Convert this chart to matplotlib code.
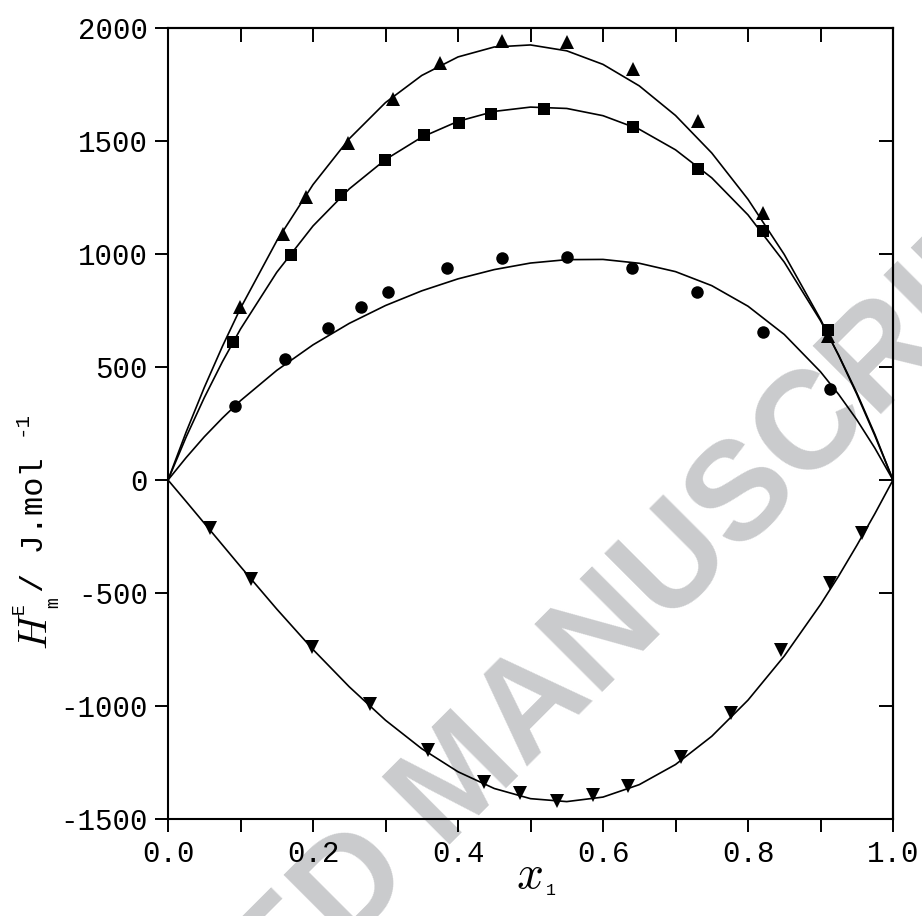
import matplotlib
matplotlib.use('Agg')
import matplotlib.pyplot as plt
import numpy as np

# ---------------- data ----------------
circ_x = [0.092, 0.162, 0.221, 0.266, 0.303, 0.385, 0.460, 0.551, 0.640, 0.730, 0.820, 0.913]
circ_y = [327, 535, 671, 764, 831, 937, 981, 985, 939, 830, 656, 401]

sq_x = [0.090, 0.169, 0.238, 0.299, 0.353, 0.401, 0.445, 0.518, 0.641, 0.731, 0.820, 0.911]
sq_y = [612, 994, 1261, 1416, 1525, 1578, 1620, 1640, 1561, 1378, 1103, 662]

tri_x = [0.099, 0.158, 0.191, 0.248, 0.311, 0.375, 0.461, 0.551, 0.641, 0.731, 0.820, 0.911]
tri_y = [767, 1090, 1254, 1493, 1686, 1847, 1944, 1938, 1817, 1590, 1180, 635]

dtri_x = [0.058, 0.115, 0.198, 0.279, 0.359, 0.436, 0.486, 0.537, 0.586, 0.635,
          0.707, 0.776, 0.845, 0.913, 0.957]
dtri_y = [-211, -438, -738, -993, -1195, -1335, -1386, -1419, -1394, -1354,
          -1227, -1032, -752, -457, -233]

curve_x = [0.000, 0.025, 0.050, 0.075, 0.100, 0.150, 0.200, 0.250, 0.300, 0.350,
           0.400, 0.450, 0.500, 0.550, 0.600, 0.650, 0.700, 0.750, 0.800, 0.850,
           0.900, 0.925, 0.950, 0.975, 1.000]
tri_fit = [0, 212, 409, 591, 760, 1058, 1307, 1510, 1670, 1790,
           1872, 1916, 1925, 1899, 1839, 1744, 1613, 1447, 1242, 998,
           711, 551, 380, 196, 0]
sq_fit = [0, 190, 364, 523, 668, 919, 1124, 1288, 1418, 1517,
          1587, 1631, 1650, 1644, 1612, 1552, 1461, 1337, 1173, 964,
          705, 553, 386, 202, 0]
circ_fit = [0, 99, 191, 274, 351, 485, 598, 693, 772, 837,
            890, 931, 960, 975, 976, 959, 922, 860, 769, 644,
            479, 379, 267, 141, 0]
dtri_fit = [0, -95, -191, -287, -383, -571, -750, -915, -1063, -1189,
            -1291, -1365, -1410, -1423, -1403, -1348, -1259, -1134, -974, -779,
            -551, -425, -290, -149, 0]

xtick_vals = [0.0, 0.2, 0.4, 0.6, 0.8, 1.0]
xtick_labels = ['0.0', '0.2', '0.4', '0.6', '0.8', '1.0']
ytick_vals = [-1500, -1000, -500, 0, 500, 1000, 1500, 2000]
ytick_labels = ['-1500', '-1000', '-500', '0', '500', '1000', '1500', '2000']

# ---------------- figure ----------------
W, H = 922, 916
plt.rcParams['mathtext.fontset'] = 'cm'
fig = plt.figure(figsize=(W / 100, H / 100), dpi=100)
fig.patch.set_facecolor('white')


def fp(x, y):
    return x / W, 1 - y / H


# watermark behind everything
fig.text(*fp(462, 782), 'ACCEPTED MANUSCRIPT', rotation=45, fontsize=100,
         family='Liberation Sans', weight='bold', color='#cacbcd',
         ha='center', va='center', zorder=-1)

ax = fig.add_axes([168 / W, 1 - 819 / H, (893 - 168) / W, (819 - 28) / H])
ax.set_facecolor('none')

lw = 1.2
for yfit in (tri_fit, sq_fit, circ_fit, dtri_fit):
    ax.plot(curve_x, yfit, color='black', lw=lw, zorder=2, solid_joinstyle='round')

ax.plot(tri_x, tri_y, '^', color='black', ms=10, mew=0, zorder=3)
ax.plot(sq_x, sq_y, 's', color='black', ms=8, mew=0, zorder=3)
ax.plot(circ_x, circ_y, 'o', color='black', ms=9, mew=0, zorder=3)
ax.plot(dtri_x, dtri_y, 'v', color='black', ms=9.5, mew=0, zorder=3)

ax.set_xlim(0, 1)
ax.set_ylim(-1500, 2000)

for s in ax.spines.values():
    s.set_linewidth(1.5)

tick_font = 'Liberation Mono'
ax.set_xticks(xtick_vals)
ax.set_xticklabels(xtick_labels, family=tick_font, fontsize=21)
ax.set_xticks([0.1, 0.3, 0.5, 0.7, 0.9], minor=True)
ax.set_yticks(ytick_vals)
ax.set_yticklabels(ytick_labels, family=tick_font, fontsize=21)
ax.tick_params(axis='x', which='both', direction='out', length=9, width=1.4,
               top=False, bottom=True, pad=6)
ax.tick_params(axis='y', which='both', direction='out', length=9.5, width=1.4,
               right=False, left=True, pad=5)

secx = ax.secondary_xaxis('top')
secx.set_xticks([0.1, 0.2, 0.3, 0.4, 0.5, 0.6, 0.7, 0.8, 0.9])
secx.tick_params(direction='in', length=10, width=1.4, labeltop=False)
secx.spines['top'].set_linewidth(1.5)

secy = ax.secondary_yaxis('right')
secy.set_yticks([-1000, -500, 0, 500, 1000, 1500])
secy.tick_params(direction='in', length=10, width=1.4, labelright=False)
secy.spines['right'].set_linewidth(1.5)

# y axis label, assembled from pieces (rotated 90 deg)
rk = dict(rotation=90, rotation_mode='anchor', ha='left', va='baseline', color='black')
fig.text(*fp(47, 650), r'$H$', fontsize=29, **rk)
fig.text(*fp(24, 614), 'E', fontsize=13, family=tick_font, **rk)
fig.text(*fp(58, 608), 'm', fontsize=13, family=tick_font, **rk)
fig.text(*fp(43, 592), '/ J.mol', fontsize=23, family=tick_font, **rk)
fig.text(*fp(27, 436), '-1', fontsize=15, family=tick_font, **rk)

# x axis label
fig.text(*fp(516, 888), r'$x$', fontsize=34, ha='left', va='baseline')
fig.text(*fp(546, 895), '1', fontsize=12, family=tick_font,
         ha='left', va='baseline')

fig.savefig('out.png', dpi=100, facecolor='white')
